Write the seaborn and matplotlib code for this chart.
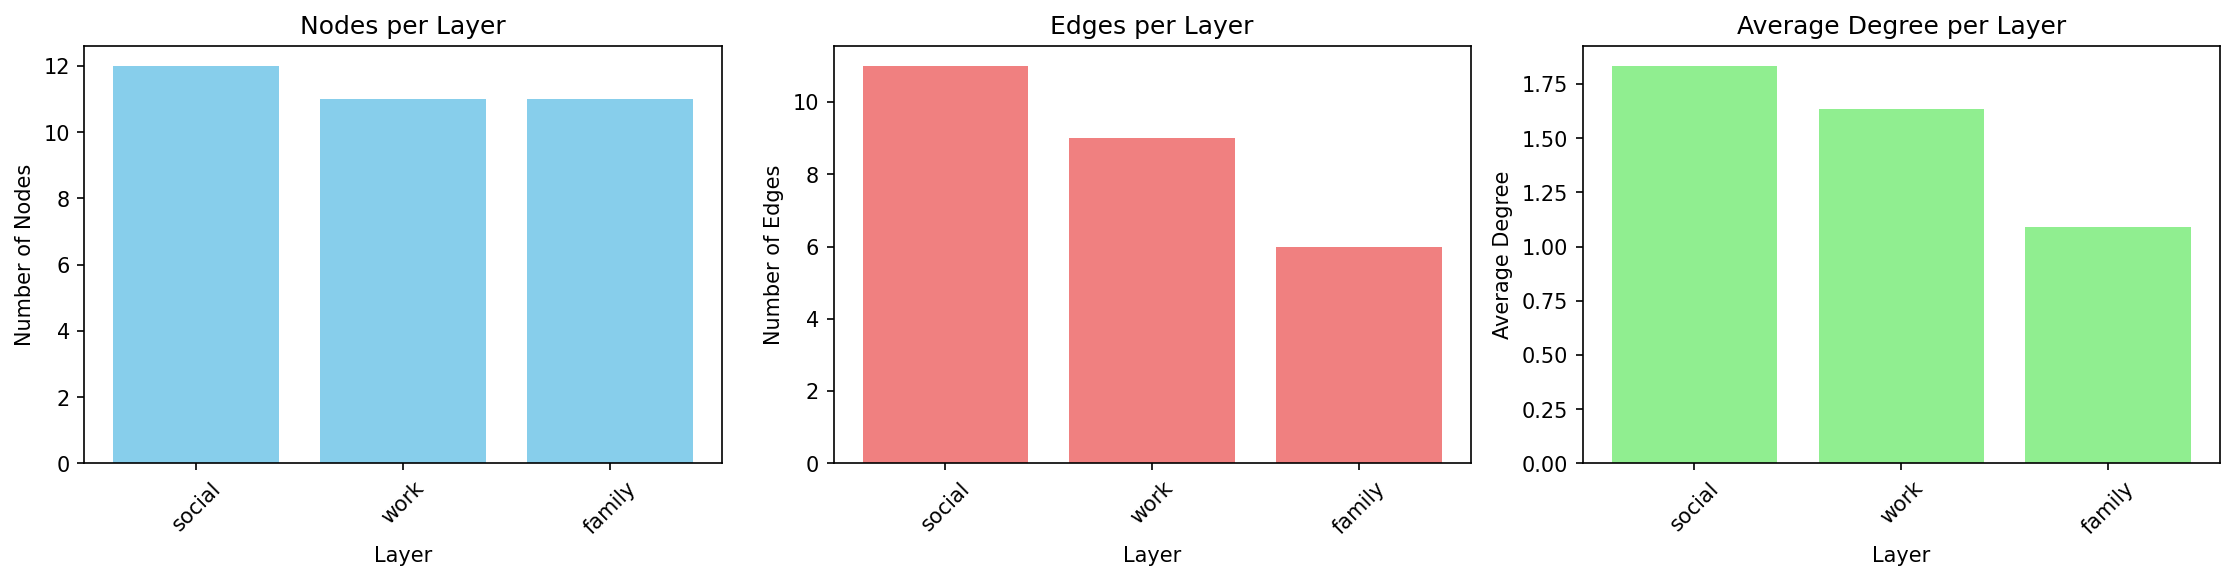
import numpy as np
import pandas as pd
import matplotlib
matplotlib.use("Agg")
import matplotlib.pyplot as plt
import seaborn as sns

layers = ["social", "work", "family"]
nodes = [12, 11, 11]
edges = [11, 9, 6]
avg_degree = [22 / 12, 18 / 11, 12 / 11]

df = pd.DataFrame({"Layer": layers, "Nodes": nodes, "Edges": edges, "Degree": avg_degree})

fig, axes = plt.subplots(1, 3, figsize=(15, 3.976), dpi=150)

panels = [
    ("Nodes", "skyblue", "Nodes per Layer", "Number of Nodes"),
    ("Edges", "lightcoral", "Edges per Layer", "Number of Edges"),
    ("Degree", "lightgreen", "Average Degree per Layer", "Average Degree"),
]

for ax, (col, color, title, ylabel) in zip(axes, panels):
    sns.barplot(data=df, x="Layer", y=col, color=color, width=0.8,
                saturation=1, ax=ax, errorbar=None)
    ax.set_xlim(-0.54, 2.54)
    ax.set_title(title)
    ax.set_xlabel("Layer")
    ax.set_ylabel(ylabel)
    ax.tick_params(axis="x", rotation=45)

plt.tight_layout()
plt.savefig("out.png", dpi=150, bbox_inches="tight")
